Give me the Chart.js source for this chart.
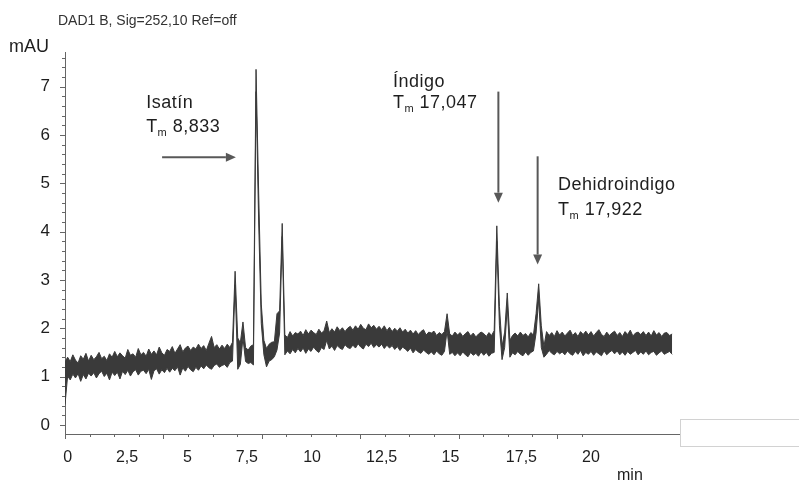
<!DOCTYPE html>
<html>
<head>
<meta charset="utf-8">
<title>DAD1 B, Sig=252,10 Ref=off</title>
<script src="https://cdn.jsdelivr.net/npm/chart.js@4.4.1/dist/chart.umd.min.js"></script>
<style>
  body { margin: 0; background: #fff; }
  canvas { display: block; }
</style>
</head>
<body>
<canvas id="myChart" width="799" height="482"></canvas>
<script>
// DAD1 B trace every 0.1 min: upper and lower edge of the noisy signal (mAU)
var sampleStep = 0.1;
var signalTop = [
  1.30,1.40,1.31,1.45,1.34,1.28,1.43,1.36,1.48,1.32,
  1.44,1.35,1.41,1.50,1.37,1.42,1.33,1.47,1.40,1.52,
  1.41,1.49,1.43,1.38,1.56,1.44,1.47,1.40,1.58,1.45,
  1.50,1.42,1.57,1.46,1.53,1.45,1.61,1.49,1.44,1.56,
  1.52,1.62,1.48,1.57,1.66,1.51,1.59,1.63,1.54,1.61,
  1.57,1.67,1.58,1.64,1.54,1.69,1.83,1.60,1.66,1.57,
  1.65,1.58,1.67,1.60,1.71,3.18,1.80,1.70,2.13,1.60,
  1.55,1.63,1.66,7.36,4.80,2.50,1.75,1.58,1.67,1.71,
  1.72,2.30,2.36,4.17,1.86,1.81,1.93,1.84,1.91,1.88,
  1.94,1.85,1.97,1.88,1.96,1.91,1.87,1.98,1.90,1.95,
  2.15,1.91,1.99,1.92,2.03,1.95,2.01,1.93,2.00,2.04,
  1.96,2.05,1.98,2.08,2.00,1.97,2.09,2.01,2.06,1.98,
  2.04,1.97,2.05,1.95,2.02,1.93,2.00,1.94,2.01,1.92,
  1.98,1.90,1.96,1.88,1.95,1.87,1.93,1.97,1.86,1.92,
  1.90,1.94,1.85,1.91,1.87,1.93,2.30,1.88,1.84,1.92,
  1.86,1.91,1.83,1.89,1.93,1.84,1.90,1.82,1.88,1.92,
  1.89,1.83,1.91,1.85,1.95,4.12,2.45,1.62,1.92,2.73,
  1.75,1.85,1.90,1.84,1.92,1.85,1.89,1.82,1.91,1.86,
  2.30,2.92,2.05,1.62,1.93,1.85,1.91,1.83,1.95,1.86,
  1.92,1.84,1.90,1.96,1.85,1.91,1.83,1.93,1.87,1.94,
  1.86,1.93,1.84,1.91,1.97,1.87,1.83,1.92,1.85,1.90,
  1.94,1.85,1.91,1.83,1.93,1.87,1.96,1.84,1.90,1.92,
  1.87,1.93,1.85,1.92,1.84,1.95,1.86,1.91,1.83,1.90,
  1.91,1.85,1.88
];
var signalBottom = [
  0.42,1.01,0.93,1.05,0.97,1.06,0.90,1.04,0.95,1.07,
  1.01,1.08,0.97,1.06,1.11,1.00,1.07,0.93,1.09,1.02,
  1.09,0.95,1.11,1.04,1.13,1.01,1.10,1.14,1.03,1.11,
  1.13,1.06,1.15,0.94,1.12,1.16,1.05,1.14,1.08,1.17,
  1.09,1.17,1.12,1.20,1.03,1.18,1.11,1.21,1.14,1.10,
  1.19,1.13,1.22,1.16,1.24,1.18,1.15,1.23,1.26,1.19,
  1.23,1.25,1.19,1.29,1.32,2.90,1.15,1.25,1.80,1.31,
  1.27,1.29,1.24,6.90,4.20,2.10,1.45,1.20,1.32,1.35,
  1.41,1.55,1.90,3.90,1.45,1.53,1.47,1.56,1.49,1.58,
  1.51,1.59,1.48,1.57,1.52,1.61,1.54,1.50,1.60,1.56,
  1.75,1.57,1.63,1.54,1.64,1.59,1.56,1.66,1.60,1.58,
  1.65,1.59,1.68,1.61,1.57,1.67,1.62,1.69,1.60,1.66,
  1.61,1.67,1.58,1.65,1.59,1.64,1.56,1.62,1.54,1.61,
  1.57,1.52,1.59,1.49,1.56,1.51,1.48,1.55,1.50,1.46,
  1.51,1.45,1.53,1.47,1.44,1.52,1.95,1.46,1.50,1.43,
  1.49,1.43,1.51,1.45,1.41,1.50,1.44,1.48,1.42,1.51,
  1.44,1.50,1.42,1.48,1.50,3.80,2.05,1.35,1.60,2.45,
  1.40,1.49,1.45,1.52,1.46,1.43,1.51,1.44,1.50,1.53,
  1.90,2.60,1.60,1.40,1.46,1.54,1.48,1.45,1.52,1.47,
  1.51,1.45,1.53,1.47,1.44,1.52,1.46,1.54,1.43,1.50,
  1.46,1.52,1.44,1.51,1.47,1.43,1.53,1.45,1.50,1.54,
  1.47,1.53,1.45,1.51,1.44,1.52,1.46,1.50,1.54,1.45,
  1.51,1.46,1.53,1.45,1.50,1.52,1.44,1.49,1.53,1.46,
  1.49,1.52,1.46
];

// axis labels (the time labels sit where they were printed, in min)
var xLabelText = ['0', '2,5', '5', '7,5', '10', '12,5', '15', '17,5', '20'];
var xLabelAt = [0.1, 2.37, 4.68, 6.95, 9.44, 12.1, 14.73, 17.44, 20.1];
var yLabels = [0, 1, 2, 3, 4, 5, 6, 7];

// small tick marks
var xTickStep = 0.94, xTickCount = 21;
var yTickStep = 0.2, yTickMax = 7.6;

// labelled peaks: name, retention time, text and arrow placement in (min, mAU)
var peakNames = ['Isatín', 'Índigo', 'Dehidroindigo'];
var peakTm = ['8,833', '17,047', '17,922'];
var peakNotes = [
  { tx: 3.10, ty: [6.57, 6.07], arrow: [3.71, 5.54, 6.53, 5.54] },
  { tx: 12.53, ty: [6.99, 6.57], arrow: [16.56, 6.90, 16.56, 4.60] },
  { tx: 18.84, ty: [4.87, 4.34], arrow: [18.06, 5.56, 18.06, 3.32] }
];

var FONT = '"Liberation Sans", Arial, sans-serif';
var traceColor = '#3a3a3a';
var axisColor = '#666';

function points(arr) {
  return arr.map(function (v, i) { return { x: Math.round(i * sampleStep * 100) / 100, y: v }; });
}

function arrow(ctx, x1, y1, x2, y2) {
  var a = Math.atan2(y2 - y1, x2 - x1), hl = 10, hw = 4.5;
  ctx.beginPath();
  ctx.moveTo(x1, y1);
  ctx.lineTo(x2 - hl * Math.cos(a), y2 - hl * Math.sin(a));
  ctx.stroke();
  ctx.beginPath();
  ctx.moveTo(x2, y2);
  ctx.lineTo(x2 - hl * Math.cos(a) - hw * Math.sin(a), y2 - hl * Math.sin(a) + hw * Math.cos(a));
  ctx.lineTo(x2 - hl * Math.cos(a) + hw * Math.sin(a), y2 - hl * Math.sin(a) - hw * Math.cos(a));
  ctx.closePath();
  ctx.fill();
}

var extras = {
  id: 'extras',
  beforeDraw: function (chart) {
    var ctx = chart.ctx;
    ctx.save();
    ctx.fillStyle = '#fff';
    ctx.fillRect(0, 0, chart.width, chart.height);
    ctx.restore();
  },
  afterDraw: function (chart) {
    var ctx = chart.ctx, xs = chart.scales.x, ys = chart.scales.y;
    ctx.save();

    // tick marks on both axes
    ctx.strokeStyle = axisColor;
    ctx.lineWidth = 1;
    ctx.beginPath();
    for (var k = 0; k * yTickStep <= yTickMax + 1e-6; k++) {
      var py = Math.round(ys.getPixelForValue(k * yTickStep)) + 0.5;
      var len = k % 5 === 0 ? 5 : 3;
      ctx.moveTo(xs.left - len, py);
      ctx.lineTo(xs.left, py);
    }
    for (var j = 0; j <= xTickCount; j++) {
      var px = Math.round(xs.getPixelForValue(j * xTickStep)) + 0.5;
      var tl = j % 4 === 0 ? 5 : 3;
      ctx.moveTo(px, ys.bottom);
      ctx.lineTo(px, ys.bottom + tl);
    }
    ctx.stroke();

    // header and units
    ctx.fillStyle = '#333';
    ctx.textBaseline = 'alphabetic';
    ctx.font = '14px ' + FONT;
    ctx.fillText('DAD1 B, Sig=252,10 Ref=off', 58, 25);
    ctx.fillStyle = '#1e1e1e';
    ctx.font = '18px ' + FONT;
    ctx.fillText('mAU', 9, 52);
    ctx.font = '16px ' + FONT;
    ctx.fillText('min', 617, 480);

    // peak labels with arrows
    ctx.letterSpacing = '0.5px';
    peakNotes.forEach(function (n, i) {
      var x0 = xs.getPixelForValue(n.tx);
      var y1 = ys.getPixelForValue(n.ty[0]);
      var y2 = ys.getPixelForValue(n.ty[1]);
      ctx.fillStyle = '#1e1e1e';
      ctx.font = '18px ' + FONT;
      ctx.fillText(peakNames[i], x0, y1);
      ctx.fillText('T', x0, y2);
      var w = ctx.measureText('T').width;
      ctx.font = '11px ' + FONT;
      ctx.fillText('m', x0 + w, y2 + 4);
      var w2 = ctx.measureText('m').width;
      ctx.font = '18px ' + FONT;
      ctx.fillText(' ' + peakTm[i], x0 + w + w2, y2);

      ctx.strokeStyle = '#585858';
      ctx.fillStyle = '#585858';
      ctx.lineWidth = 2;
      var a = n.arrow;
      arrow(ctx, xs.getPixelForValue(a[0]), ys.getPixelForValue(a[1]),
                 xs.getPixelForValue(a[2]), ys.getPixelForValue(a[3]));
    });
    ctx.letterSpacing = '0px';

    // blank legend box right of the time axis
    ctx.strokeStyle = '#d2d2d2';
    ctx.lineWidth = 1;
    ctx.strokeRect(xs.right + 0.5, ys.bottom - 14.5, 140, 27);
    ctx.restore();
  }
};

Chart.defaults.font.family = FONT;

var ctx = document.getElementById('myChart').getContext('2d');
var myChart = new Chart(ctx, {
  type: 'line',
  data: {
    datasets: [{
      label: 'upper',
      data: points(signalTop),
      borderColor: traceColor,
      backgroundColor: traceColor,
      borderWidth: 1,
      borderJoinStyle: 'round',
      pointRadius: 0,
      tension: 0,
      fill: '+1'
    }, {
      label: 'lower',
      data: points(signalBottom),
      borderColor: traceColor,
      borderWidth: 1,
      borderJoinStyle: 'round',
      pointRadius: 0,
      tension: 0,
      fill: false
    }]
  },
  options: {
    responsive: false,
    animation: false,
    devicePixelRatio: 1,
    layout: { padding: { top: 52, right: 119, bottom: 0, left: 0 } },
    plugins: {
      legend: { display: false },
      tooltip: { enabled: false },
      title: { display: false }
    },
    scales: {
      x: {
        type: 'linear',
        min: 0,
        max: 23.5,
        afterFit: function (s) { s.height = 48; },
        afterBuildTicks: function (s) {
          s.ticks = xLabelAt.map(function (v) { return { value: v }; });
        },
        grid: { display: false, drawTicks: false },
        border: { display: true, color: axisColor, width: 1 },
        ticks: {
          autoSkip: false,
          maxRotation: 0,
          padding: 14,
          color: '#1e1e1e',
          font: { size: 16 },
          callback: function (v, i) { return xLabelText[i]; }
        }
      },
      y: {
        type: 'linear',
        min: -0.19,
        max: 7.72,
        afterFit: function (s) { s.width = 65; },
        afterBuildTicks: function (s) {
          s.ticks = yLabels.map(function (v) { return { value: v }; });
        },
        grid: { display: false, drawTicks: false },
        border: { display: true, color: axisColor, width: 1 },
        ticks: {
          autoSkip: false,
          padding: 15,
          color: '#1e1e1e',
          font: { size: 17 },
          callback: function (v) { return String(v); }
        }
      }
    }
  },
  plugins: [extras]
});
</script>
</body>
</html>
